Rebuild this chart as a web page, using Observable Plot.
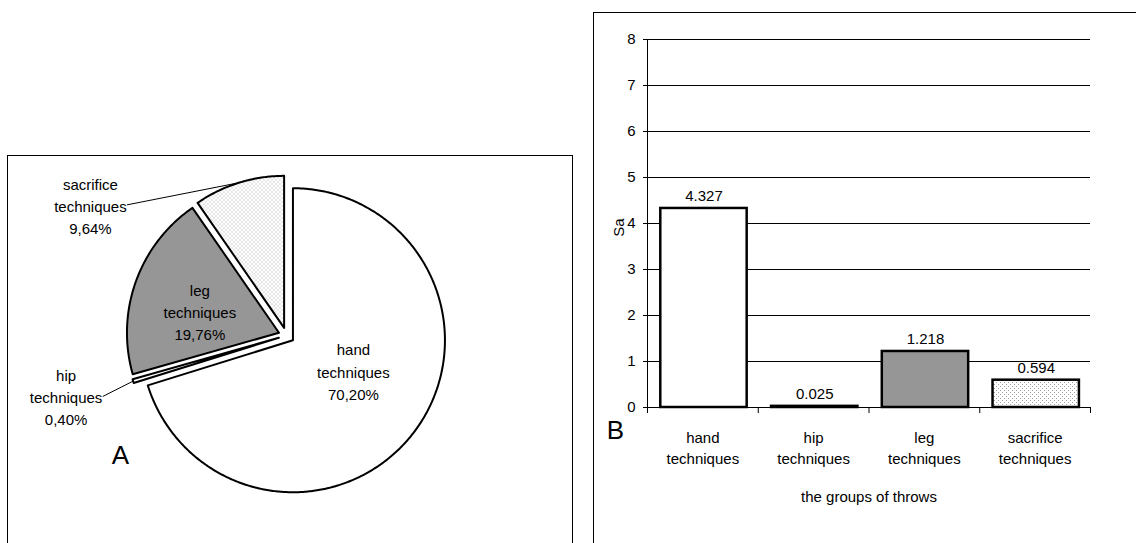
<!DOCTYPE html>
<html><head><meta charset="utf-8">
<script src="https://cdn.jsdelivr.net/npm/d3@7"></script>
<script src="https://cdn.jsdelivr.net/npm/@observablehq/plot@0.6"></script>
<style>
html,body{margin:0;padding:0;background:#fff;overflow:hidden;}
#root{position:relative;width:1136px;height:543px;overflow:hidden;font-family:"Liberation Sans",Arial,sans-serif;}
.box{position:absolute;border:1.5px solid #000;box-sizing:border-box;pointer-events:none;}
.abs{position:absolute;}
</style></head><body>
<svg width="0" height="0" style="position:absolute">
  <defs>
    <pattern id="dots" patternUnits="userSpaceOnUse" width="4" height="4">
      <rect width="4" height="4" fill="#fff"/>
      <rect x="0" y="0" width="1" height="1" fill="#a0a0a0"/>
      <rect x="2" y="2" width="1" height="1" fill="#a0a0a0"/>
    </pattern>
  </defs>
</svg>
<div id="root"></div>
<script>
// ---- data ----
const categories = ["hand", "hip", "leg", "sacrifice"];
const shares = [70.20, 0.40, 19.76, 9.64];          // % of throws (panel A)
const saValues = [4.327, 0.025, 1.218, 0.594];       // Sa (panel B)
const yTicks = [0, 1, 2, 3, 4, 5, 6, 7, 8];
const fills = ["#ffffff", "#ffffff", "#969696", "url(#dots)"];
// label anchor positions for pie labels, in pie radii from the pie centre
const pieLabelAt = [[0.44, 0.23], [-1.45, 0.40], [-0.57, -0.16], [-1.29, -0.86]];

const font = '"Liberation Sans", Arial, sans-serif';
const root = document.getElementById("root");

// ---- Panel A: exploded pie ----
const R = 152, explode = 8 / R;
const arcs = d3.pie().sort(null).value(d => d)(shares);
const slicePts = [];
const mids = [];
arcs.forEach((p, i) => {
  const mid = (p.startAngle + p.endAngle) / 2;
  const ox = explode * Math.sin(mid), oy = -explode * Math.cos(mid);
  mids.push({ox, oy, mid});
  const n = Math.max(2, Math.ceil((p.endAngle - p.startAngle) / 0.01));
  slicePts.push({k: i, x: ox, y: oy});
  for (let j = 0; j <= n; j++) {
    const a = p.startAngle + (p.endAngle - p.startAngle) * j / n;
    slicePts.push({k: i, x: ox + Math.sin(a), y: oy - Math.cos(a)});
  }
  slicePts.push({k: i, x: ox, y: oy});
});
const fmtPct = v => d3.format(".2f")(v).replace(".", ",") + "%";
const pieLabels = categories.map((c, i) => ({
  x: pieLabelAt[i][0], y: pieLabelAt[i][1],
  text: `${c}\ntechniques\n${fmtPct(shares[i])}`
}));
const halfW = 37 / R, elbow = 10 / R;
const leaders = [];
categories.forEach((c, i) => {
  const [lx, ly] = pieLabelAt[i];
  if (Math.abs(lx) <= 1) return;
  const m = mids[i];
  const ex = m.ox + Math.sin(m.mid), ey = m.oy - Math.cos(m.mid);
  const sx = lx + halfW;
  leaders.push({k: i, x: sx, y: ly});
  if (ey > ly) leaders.push({k: i, x: sx + elbow, y: ly});
  leaders.push({k: i, x: ex, y: ey});
});

const cxA = 279, cyA = 180;
const pieSvg = Plot.plot({
  width: 565, height: 400, margin: 0,
  x: {domain: [-1, 1], range: [cxA - R, cxA + R], axis: null},
  y: {domain: [-1, 1], range: [cyA - R, cyA + R], axis: null},
  color: {type: "identity"},
  style: {fontFamily: font, fontSize: "15px", color: "#000", background: "transparent", overflow: "visible"},
  marks: [
    Plot.line(slicePts, {x: "x", y: "y", z: "k", fill: d => fills[d.k], stroke: "#000", strokeWidth: 2, curve: "linear"}),
    Plot.line(leaders, {x: "x", y: "y", z: "k", stroke: "#000", strokeWidth: 1, curve: "linear"}),
    Plot.text(pieLabels, {x: "x", y: "y", text: "text", fontSize: 15, lineHeight: 1.47, fill: "#000"}),
    Plot.text(["A"], {frameAnchor: "top-left", textAnchor: "middle", dx: 113, dy: 290, fontSize: 26, fill: "#000"})
  ]
});
pieSvg.classList.add("abs");
pieSvg.style.left = "7px"; pieSvg.style.top = "155px";
root.appendChild(pieSvg);
const boxA = document.createElement("div");
boxA.className = "box";
Object.assign(boxA.style, {left: "7px", top: "155px", width: "566px", height: "450px"});
root.appendChild(boxA);

// ---- Panel B: bars ----
const bars = categories.map((c, i) => ({i, name: c, value: saValues[i], fill: fills[i]}));
const barSvg = Plot.plot({
  width: 542, height: 531,
  marginLeft: 53, marginTop: 27, marginRight: 46, marginBottom: 136,
  x: {type: "linear", domain: [0, categories.length], axis: null},
  y: {domain: [0, 8], axis: null},
  color: {type: "identity"},
  style: {fontFamily: font, fontSize: "15px", color: "#000", background: "transparent", overflow: "visible"},
  marks: [
    Plot.ruleY(yTicks, {stroke: "#000", strokeWidth: 1}),
    Plot.rectY(bars, {x1: d => d.i + 0.12, x2: d => d.i + 0.9, y: "value", fill: "fill", stroke: "#000", strokeWidth: 2.5}),
    Plot.ruleX([0], {stroke: "#000", strokeWidth: 1}),
    Plot.axisY({ticks: yTicks, tickSize: 4, tickPadding: 8, fontSize: 15, label: null}),
    Plot.axisX({ticks: d3.range(categories.length + 1), tickFormat: () => "", tickSize: 6, label: null}),
    Plot.text(bars, {x: d => d.i + 0.51, y: "value", text: d => d3.format(".3f")(d.value), dy: -12, fontSize: 15, fill: "#000"}),
    Plot.text(bars, {x: d => d.i + 0.5, y: 0, text: d => `${d.name}\ntechniques`, lineAnchor: "top", dy: 21, lineHeight: 1.4, fontSize: 15, fill: "#000"}),
    Plot.text(["Sa"], {frameAnchor: "left", textAnchor: "middle", dx: -28, dy: 4, rotate: -90, fontSize: 15, fill: "#000"}),
    Plot.text(["the groups of throws"], {frameAnchor: "bottom", textAnchor: "middle", dy: 94, fontSize: 15, fill: "#000"}),
    Plot.text(["B"], {frameAnchor: "bottom-left", textAnchor: "middle", dx: -32, dy: 31, fontSize: 26, fill: "#000"})
  ]
});
barSvg.classList.add("abs");
barSvg.style.left = "594px"; barSvg.style.top = "12px";
root.appendChild(barSvg);
const boxB = document.createElement("div");
boxB.className = "box";
Object.assign(boxB.style, {left: "593px", top: "12px", width: "700px", height: "700px"});
root.appendChild(boxB);
</script>
</body></html>
